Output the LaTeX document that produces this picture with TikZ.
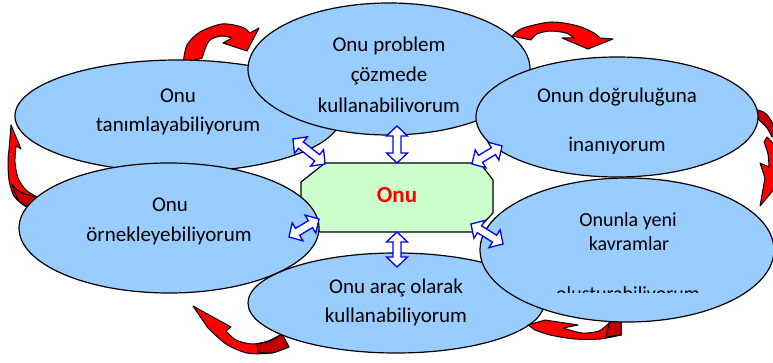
\documentclass[tikz,border=0pt]{standalone}
\usepackage{fontspec}
\setmainfont{Carlito}
\usetikzlibrary{calc,shapes.geometric}
\definecolor{ellblue}{HTML}{99CCFF}
\definecolor{octgreen}{HTML}{CCFFCC}
\definecolor{darkred}{HTML}{C00000}
\newcommand\dblarr[2]{%
  \coordinate (#1-p) at ($(#1)!10pt!(#2)$);
  \coordinate (#1-q) at ($(#2)!10pt!(#1)$);
  \draw[blarrow] (#1)
    -- ($(#1-p)!10.5pt!90:(#2)$) -- ($(#1-p)!4pt!90:(#2)$)
    -- ($(#1-q)!4pt!90:(#2)$) -- ($(#1-q)!10.5pt!90:(#2)$)
    -- (#2)
    -- ($(#1-q)!10.5pt!-90:(#2)$) -- ($(#1-q)!4pt!-90:(#2)$)
    -- ($(#1-p)!4pt!-90:(#2)$) -- ($(#1-p)!10.5pt!-90:(#2)$)
    -- cycle;}
\begin{document}
\begin{tikzpicture}[x=1pt,y=-1pt,
  ell/.style={ellipse, draw=black, line width=1.2pt, fill=ellblue, inner sep=0pt},
  lbl/.style={anchor=base, inner sep=0pt, font=\fontsize{21}{25}\selectfont},
  lbls/.style={anchor=base, inner sep=0pt, font=\fontsize{20}{24}\selectfont},
  redarr/.style={fill=red, draw=black, line width=1pt, line join=round},
  darkarr/.style={fill=darkred, draw=black, line width=1pt, line join=round},
  blarrow/.style={draw=blue, fill=white, line width=1.3pt, line join=miter},
  octbox/.style={fill=octgreen, draw=black, line width=1.2pt}]
\useasboundingbox (0,0) rectangle (773,363);
\fill[white] (0,0) rectangle (773,363);

% red arrow 1 (top-left)
\filldraw[redarr] plot[smooth] coordinates {(183,64) (187,45) (200,32) (222,24) (242,27) (250,33)}
  -- (259,28) -- (247,51) -- (223,43) -- (232,38)
  -- plot[smooth] coordinates {(232,38) (221,36) (209,41) (202,58)} -- cycle;

% ellipse 1
\node[ell, minimum width=326pt, minimum height=112pt] (e1) at (178,116) {};
\node[lbl] (t1a) at (178,103) {Onu};
\node[lbl] (t1b) at (178,132) {tanımlayabiliyorum};

% red arrow 2 (top-right)
\filldraw[redarr] plot[smooth] coordinates {(512,36) (523,28) (552,22) (578,26) (594,33) (600,38)}
  -- (613,39) -- (588,49) -- (562,38) -- (574,38)
  -- plot[smooth] coordinates {(574,38) (566,33) (550,31) (537,34) (531,40)} -- cycle;

% red arrow 4 (left)
\filldraw[redarr] (11,125) -- (21,149) -- (16,146)
  -- plot[smooth] coordinates {(16,146) (15,162) (18,178) (26,190) (37,197)}
  -- (38,211)
  -- plot[smooth] coordinates {(38,211) (25,206) (14,196) (9,180) (8,160) (9,150)} -- cycle;
\filldraw[darkarr] plot[smooth] coordinates {(12,184) (17,190) (25,194) (37,197)}
  -- (38,211) -- plot[smooth] coordinates {(38,211) (28,207) (18,200) (12,184)} -- cycle;

% ellipse 2
\node[ell, minimum width=282pt, minimum height=132pt] (e2) at (389,69) {};
\begin{scope}
  \clip (250,20) rectangle (530,112);
  \node[lbl] (t2a) at (389,52) {Onu problem};
  \node[lbl] (t2b) at (389,82) {çözmede};
  \node[lbl] (t2c) at (389,113) {kullanabiliyorum};
\end{scope}

% red arrow 3 (right)
\filldraw[darkarr] plot[smooth] coordinates {(755,109) (765,113) (772,122) (776,133)}
  -- (772,137) -- plot[smooth] coordinates {(772,137) (767,128) (760,121) (756,116)} -- cycle;
\filldraw[redarr] plot[smooth] coordinates {(767,137) (775,146) (780,160)}
  -- (792,168) -- (760,206) -- (765,178) -- (760,163) -- (769,167)
  -- plot[smooth] coordinates {(769,167) (768,154) (764,142)} -- cycle;

% ellipse 3
\node[ell, minimum width=282pt, minimum height=120pt] (e3) at (617,117) {};
\begin{scope}
  \clip (480,70) rectangle (760,154);
  \node[lbl] (t3a) at (617,103) {Onun doğruluğuna};
  \node[lbl] (t3b) at (617,152) {inanıyorum};
\end{scope}

% central octagon
\draw[octbox] (325,163) -- (480,163) -- (493,180) -- (493,213) -- (475,232)
  -- (320,232) -- (301,213) -- (301,182) -- cycle;
\node[anchor=base, inner sep=0pt, text=red, font=\fontsize{23}{27}\selectfont\bfseries] (c) at (397,203) {Onu};

% ellipse 4
\node[ell, minimum width=300pt, minimum height=130pt] (e4) at (169,228) {};
\node[lbl] (t4a) at (170,212) {Onu};
\node[lbl] (t4b) at (169,241) {örnekleyebiliyorum};

% red arrow 5 (bottom-left)
\filldraw[redarr] (193,306) -- (231,327) -- (226,331)
  -- plot[smooth] coordinates {(226,331) (236,340) (252,344) (268,341) (282,334)}
  -- (289,347)
  -- plot[smooth] coordinates {(289,347) (270,353) (247,353) (226,344) (208,328)} -- cycle;
\filldraw[darkarr] plot[smooth] coordinates {(257,344) (270,341) (282,334)}
  -- (289,347) -- plot[smooth] coordinates {(289,347) (272,353) (258,352)} -- cycle;

% ellipse 6
\node[ell, minimum width=296pt, minimum height=100pt] (e6) at (396,303) {};
\node[lbl] (t6a) at (396,293) {Onu araç olarak};
\node[lbl] (t6b) at (396,322) {kullanabiliyorum};

% red arrow 6 (bottom-right)
\filldraw[redarr] (528,325) -- (545,320) -- (578,325) -- (563,328)
  -- plot[smooth] coordinates {(563,328) (582,333) (599,331) (609,323)}
  -- (621,318) -- (621,335)
  -- plot[smooth] coordinates {(621,335) (600,339) (575,339) (550,335) (535,330)} -- cycle;
\filldraw[darkarr] (609,323) -- (621,318) -- (621,335) -- (606,337) -- cycle;

% ellipse 5
\node[ell, minimum width=294pt, minimum height=144pt] (e5) at (627,250) {};
\begin{scope}
  \clip (490,200) rectangle (765,292);
  \node[lbls] (t5a) at (628,227) {Onunla yeni};
  \node[lbls] (t5b) at (629,251) {kavramlar};
  \node[lbls] (t5c) at (628,300) {oluşturabiliyorum};
\end{scope}

% blue double arrows
\coordinate (a1) at (397,126); \coordinate (b1) at (397,163);
\coordinate (a2) at (397,232); \coordinate (b2) at (397,267);
\coordinate (a3) at (293,139); \coordinate (b3) at (325,164);
\coordinate (a4) at (289,237); \coordinate (b4) at (319,219);
\coordinate (a5) at (472,164); \coordinate (b5) at (502,146);
\coordinate (a6) at (471,224); \coordinate (b6) at (503,244);
\dblarr{a1}{b1}
\dblarr{a2}{b2}
\dblarr{a3}{b3}
\dblarr{a4}{b4}
\dblarr{a5}{b5}
\dblarr{a6}{b6}
\end{tikzpicture}
\end{document}
